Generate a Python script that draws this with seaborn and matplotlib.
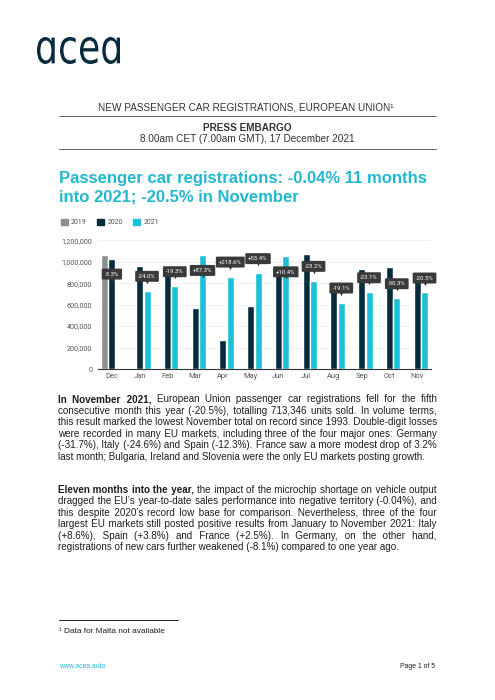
import numpy as np
import pandas as pd
import matplotlib
matplotlib.use("Agg")
import matplotlib.pyplot as plt
import seaborn as sns
from matplotlib.patches import Patch, PathPatch
from matplotlib.textpath import TextPath
from matplotlib.font_manager import FontProperties
from matplotlib.transforms import Affine2D

# ---------------- data ----------------
months = ["Dec", "Jan", "Feb", "Mar", "Apr", "May", "Jun", "Jul", "Aug", "Sep", "Oct", "Nov"]
years = ["2019", "2020", "2021"]
values_2019 = [1065000, None, None, None, None, None, None, None, None, None, None, None]
values_2020 = [1030000, 958000, 957000, 568000, 270000, 583000, 952000, 1070000, 767000, 933000, 952000, 897000]
values_2021 = [None, 729000, 772000, 1064000, 862000, 894000, 1051000, 822000, 620000, 716000, 660000, 713346]
change_labels = ["-3.3%", "-24.0%", "-19.3%", "+87.3%", "+218.6%", "+53.4%",
                 "+10.4%", "-23.2%", "-19.1%", "-23.1%", "-30.3%", "-20.5%"]
y_ticks = [0, 200000, 400000, 600000, 800000, 1000000, 1200000]

header_line = "NEW PASSENGER CAR REGISTRATIONS, EUROPEAN UNION\u00b9"
embargo_title = "PRESS EMBARGO"
embargo_time = "8.00am CET (7.00am GMT), 17 December 2021"
title_lines = ["Passenger car registrations: -0.04% 11 months",
               "into 2021; -20.5% in November"]
para1_bold = "In November 2021,"
para1 = ["In November 2021, European Union passenger car registrations fell for the fifth",
         "consecutive month this year (-20.5%), totalling 713,346 units sold. In volume terms,",
         "this result marked the lowest November total on record since 1993. Double-digit losses",
         "were recorded in many EU markets, including three of the four major ones: Germany",
         "(-31.7%), Italy (-24.6%) and Spain (-12.3%). France saw a more modest drop of 3.2%",
         "last month; Bulgaria, Ireland and Slovenia were the only EU markets posting growth."]
para2_bold = "Eleven months into the year,"
para2 = ["Eleven months into the year, the impact of the microchip shortage on vehicle output",
         "dragged the EU\u2019s year-to-date sales performance into negative territory (-0.04%), and",
         "this despite 2020\u2019s record low base for comparison. Nevertheless, three of the four",
         "largest EU markets still posted positive results from January to November 2021: Italy",
         "(+8.6%), Spain (+3.8%) and France (+2.5%). In Germany, on the other hand,",
         "registrations of new cars further weakened (-8.1%) compared to one year ago."]
footnote = "\u00b9 Data for Malta not available"
website = "www.acea.auto"
page_no = "Page 1 of 5"

# ---------------- style ----------------
GRAY = "#8e8e8e"
NAVY = "#072b3d"
CYAN = "#1cc1d8"
TITLE_CYAN = "#22b8d0"
LABEL_BG = "#3a3a3a"
TEXT = "#1e1e1e"
BODY_FONT = "Liberation Sans"
BODY_FAM = [BODY_FONT, "DejaVu Sans"]
CHART_FONT = "Roboto"

sns.set_theme(style="white")
plt.rcParams["font.family"] = BODY_FAM

W, H = 495, 700
fig = plt.figure(figsize=(W / 100, H / 100), dpi=100)
fig.patch.set_facecolor("white")

page = fig.add_axes([0, 0, 1, 1], zorder=0)
page.set_xlim(0, W)
page.set_ylim(H, 0)
page.axis("off")
renderer = fig.canvas.get_renderer()


def text_w(s, size, weight="normal", family=None):
    fam = BODY_FAM if family is None else family
    t = page.text(0, 0, s, fontsize=size, fontweight=weight, family=fam)
    w = t.get_window_extent(renderer).width
    t.remove()
    return w


def fit_size(s, width, weight="normal", family=None):
    size = 10 * width / text_w(s, 10, weight, family)
    for _ in range(3):
        size *= width / text_w(s, size, weight, family)
    return size


def put(x, yc, s, size, weight="normal", color=TEXT, ha="left", family=None):
    px = size * 100 / 72
    page.text(x, yc + 0.36 * px, s, fontsize=size, fontweight=weight, color=color,
              ha=ha, va="baseline", family=BODY_FAM if family is None else family)


# ---------------- logo ----------------
fp = FontProperties(family="DejaVu Sans")
lp = TextPath((0, 0), "\u0251ce\u0251", prop=fp, size=1)
ext = lp.get_extents()
lx0, lx1, ly0, ly1 = 37, 120, 37, 64
tr = (Affine2D().translate(-ext.x0, -ext.y0)
      .scale((lx1 - lx0) / ext.width, -(ly1 - ly0) / ext.height)
      .translate(lx0, ly1))
page.add_patch(PathPatch(tr.transform_path(lp), fc=NAVY, ec="none"))

# ---------------- header ----------------
s = fit_size(header_line, 295)
put(246, 107, header_line, s, color="#333333", ha="center")
page.plot([58.5, 436], [116.3, 116.3], color="#666666", lw=0.7)
s = fit_size(embargo_title, 89, "bold")
put(247.5, 127, embargo_title, s, "bold", color="#333333", ha="center")
s = fit_size(embargo_time, 213)
put(247.5, 138, embargo_time, s, color="#333333", ha="center")
page.plot([58.5, 436], [149, 149], color="#666666", lw=0.7)

# ---------------- title ----------------
ts = fit_size(title_lines[0], 369, "bold")
for i, line in enumerate(title_lines):
    page.text(59.3, [182.8, 201.1][i], line, fontsize=ts, fontweight="bold",
              color=TITLE_CYAN, va="baseline", family=BODY_FAM)

# ---------------- body text (justified with hair spaces) ----------------
LEFT, RIGHT = 58.5, 437


def split_line(line, bold_prefix):
    words = line.split(" ")
    nb = len(bold_prefix.split(" ")) if (bold_prefix and line.startswith(bold_prefix)) else 0
    return words, nb


def natural_width(line, bold_prefix, size):
    words, nb = split_line(line, bold_prefix)
    if nb == 0:
        return text_w(line, size)
    sp = text_w("a a", size) - text_w("aa", size)
    return (text_w(" ".join(words[:nb]), size, "bold") + sp
            + text_w(" ".join(words[nb:]), size))


cands = []
for para, bp in ((para1, para1_bold), (para2, para2_bold)):
    for li, line in enumerate(para[:-1]):
        cands.append(10 * (RIGHT - LEFT) / natural_width(line, bp if li == 0 else None, 10))
body_size = min(cands)
bpx = body_size * 100 / 72

FILL = None
fill_w = 0.0
for ch in ["\u200a", "\u2009", "\u2006"]:
    wch = (text_w("a" + ch * 10 + "a", body_size) - text_w("aa", body_size)) / 10
    if wch > 0.2:
        FILL, fill_w = ch, wch
        break


def draw_line(line, bold_prefix, yb, justify):
    words, nb = split_line(line, bold_prefix)
    G = len(words) - 1
    counts = [0] * G
    if justify and G and FILL:
        extra = RIGHT - LEFT - natural_width(line, bold_prefix, body_size)
        n = max(0, int(round(extra / fill_w)))
        counts = [int(round((i + 1) * n / G)) - int(round(i * n / G)) for i in range(G)]
    gaps = [" " + (FILL or "") * c for c in counts]

    def join(ws, gs):
        out = ws[0]
        for w_, g_ in zip(ws[1:], gs):
            out += g_ + w_
        return out

    if nb == 0:
        page.text(LEFT, yb, join(words, gaps), fontsize=body_size, color=TEXT,
                  va="baseline", family=BODY_FAM)
    else:
        bold_str = join(words[:nb], gaps[:nb - 1])
        page.text(LEFT, yb, bold_str, fontsize=body_size, fontweight="bold", color=TEXT,
                  va="baseline", family=BODY_FAM)
        link = text_w("a" + gaps[nb - 1] + "a", body_size) - text_w("aa", body_size)
        x2 = LEFT + text_w(bold_str, body_size, "bold") + link
        page.text(x2, yb, join(words[nb:], gaps[nb:]), fontsize=body_size, color=TEXT,
                  va="baseline", family=BODY_FAM)


def draw_para(lines, bold_prefix, y0, step):
    for li, line in enumerate(lines):
        yb = y0 + li * step + 0.32 * bpx
        draw_line(line, bold_prefix if li == 0 else None, yb, li < len(lines) - 1)


draw_para(para1, para1_bold, 399.0, 11.5)
draw_para(para2, para2_bold, 489.5, 11.5)

# ---------------- footer ----------------
page.plot([59, 178], [620, 620], color="#222222", lw=0.7)
put(59, 630, footnote, fit_size(footnote, 106), color=TEXT)
put(59, 665.7, website, fit_size(website, 46), color=TITLE_CYAN)
put(435, 665.7, page_no, fit_size(page_no, 35), color=TEXT, ha="right")

# ---------------- chart ----------------
rows = []
for series, yr in zip([values_2019, values_2020, values_2021], years):
    for m, v in zip(months, series):
        if v is not None:
            rows.append({"month": m, "year": yr, "value": v})
df = pd.DataFrame(rows)

ax_l, ax_r, ax_b, ax_t = 98, 431, 369, 240.3
ax = fig.add_axes([ax_l / W, 1 - ax_b / H, (ax_r - ax_l) / W, (ax_b - ax_t) / H], zorder=2)
ax.patch.set_alpha(0)

sns.barplot(data=df, x="month", y="value", hue="year", order=months, hue_order=years,
            palette=[GRAY, NAVY, CYAN], saturation=1, width=0.8, gap=0.05,
            legend=False, ax=ax, zorder=2)

ax.set_xlim(-0.5, len(months) - 0.5)
ax.set_ylim(0, y_ticks[-1])
ax.set_yticks(y_ticks)
ax.set_yticklabels([f"{v:,}" for v in y_ticks], family=CHART_FONT)
ax.set_xticks(range(len(months)))
ax.set_xticklabels(months, family=CHART_FONT)
ax.tick_params(axis="y", length=0, labelsize=5.2, colors="#555555", pad=4.2)
ax.tick_params(axis="x", length=0, labelsize=5.4, colors="#555555", pad=3.2)
ax.set_xlabel("")
ax.set_ylabel("")
ax.yaxis.grid(True, color="#ececec", lw=0.6)
ax.set_axisbelow(True)
for sp in ["top", "right", "left"]:
    ax.spines[sp].set_visible(False)
ax.spines["bottom"].set_color("#333333")
ax.spines["bottom"].set_linewidth(0.8)
ax.spines["bottom"].set_zorder(5)

slot = 0.8 / 3
for i, lab in enumerate(change_labels):
    if values_2021[i] is None:
        xv, v = i, values_2020[i]
    else:
        xv, v = i + slot, values_2021[i]
    yv = v + 135000 if v + 135000 < 1100000 else v - 145000
    ax.text(xv, yv, lab, ha="center", va="center", fontsize=4.3, color="white",
            family=CHART_FONT, zorder=6,
            bbox=dict(boxstyle="round,pad=0.5,rounding_size=0.2", fc=LABEL_BG, ec="none"))
    ax.plot(xv, yv - 52000, marker="v", ms=2.5, color=LABEL_BG, mec="none", zorder=6)

handles = [Patch(color=c) for c in [GRAY, NAVY, CYAN]]
leg = ax.legend(handles, years, ncol=3, frameon=False, loc="center left",
                bbox_to_anchor=((61 - ax_l) / (ax_r - ax_l), (ax_b - 222.7) / (ax_b - ax_t)),
                handlelength=0.95, handleheight=0.95, columnspacing=1.5,
                handletextpad=0.5, borderaxespad=0, borderpad=0,
                prop={"family": CHART_FONT, "size": 5.0})
for t in leg.get_texts():
    t.set_color("#555555")

fig.savefig("out.png", dpi=100, facecolor="white")
